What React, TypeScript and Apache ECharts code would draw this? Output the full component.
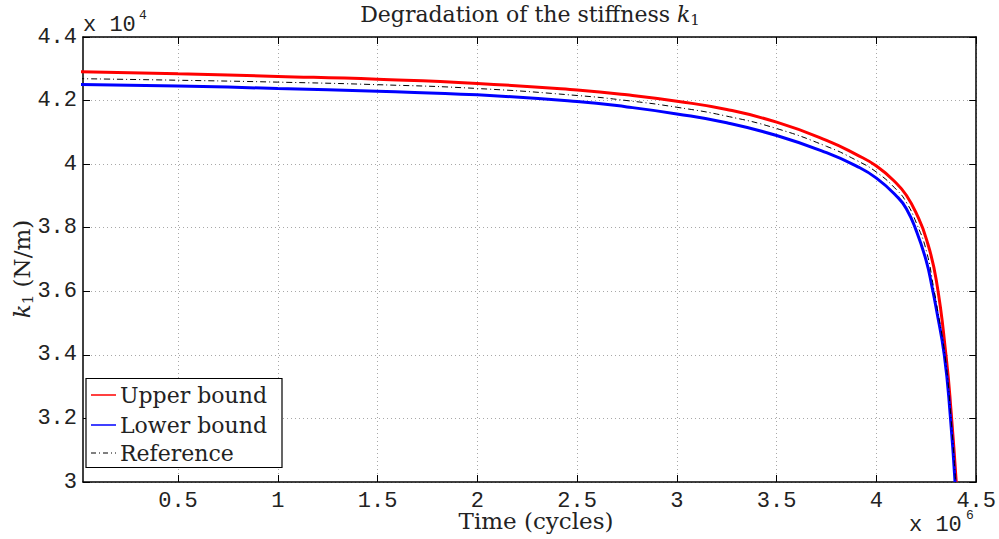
import React, { useEffect, useRef } from "react";
import * as echarts from "echarts";

// Time in cycles, stiffness in N/m
const upperX = [0, 500000, 1000000, 1500000, 2000000, 2500000, 2750000, 3000000, 3250000, 3500000, 3750000, 3900000, 4000000, 4100000, 4150000, 4200000, 4250000, 4300000, 4350000, 4375000, 4400000];
const upperY = [42910, 42840, 42760, 42670, 42540, 42330, 42180, 41980, 41720, 41320, 40750, 40300, 39940, 39400, 39020, 38450, 37650, 36350, 33900, 32150, 30000];

const lowerX = [0, 500000, 1000000, 1500000, 2000000, 2500000, 2750000, 3000000, 3250000, 3500000, 3750000, 3900000, 4000000, 4100000, 4150000, 4200000, 4250000, 4280000, 4300000, 4340000, 4370000, 4394000];
const lowerY = [42510, 42460, 42380, 42290, 42180, 41970, 41800, 41580, 41300, 40900, 40360, 39940, 39560, 39000, 38600, 37900, 36950, 36100, 35450, 34000, 32100, 30000];

const refX = [0, 500000, 1000000, 1500000, 2000000, 2500000, 2750000, 3000000, 3250000, 3500000, 3750000, 3900000, 4000000, 4100000, 4150000, 4200000, 4250000, 4290000, 4300000, 4345000, 4374000, 4397000];
const refY = [42690, 42640, 42580, 42500, 42380, 42160, 42000, 41790, 41510, 41120, 40560, 40120, 39750, 39200, 38800, 38150, 37280, 36000, 35650, 33900, 32000, 30000];

const xTicks = [500000, 1000000, 1500000, 2000000, 2500000, 3000000, 3500000, 4000000, 4500000];
const legendNames = ["Upper bound", "Lower bound", "Reference"];

const SERIF = "'DejaVu Serif', 'Liberation Serif', serif";
const MONO = "'Liberation Mono', 'DejaVu Sans Mono', monospace";

const pairs = (xs: number[], ys: number[]) => xs.map((x, i) => [x, ys[i]]);

export default function App() {
  const ref = useRef<HTMLDivElement>(null);
  useEffect(() => {
    if (!ref.current) return;
    const chart = echarts.init(ref.current, undefined, { renderer: "svg" });
    const gridLine = { show: true, lineStyle: { color: "#a8a8a8", type: [1, 3] as any, width: 1 } };
    const xBase = {
      type: "value" as const,
      min: 24000,
      max: 4500000,
      axisLine: { show: true, onZero: false, lineStyle: { color: "#000", width: 1.5 } },
    };
    const yBase = {
      type: "value" as const,
      min: 30000,
      max: 44000,
      interval: 2000,
      axisLine: { show: true, onZero: false, lineStyle: { color: "#000", width: 1.5 } },
    };
    const legendRows = [395, 425, 453];
    const legendColors = ["#ff0000", "#0000ff", "#000000"];
    chart.setOption({
      animation: false,
      grid: { left: 83, right: 22, top: 37, bottom: 57, containLabel: false },
      xAxis: [
        {
          ...xBase,
          position: "bottom",
          axisTick: { show: true, inside: true, length: 7, customValues: xTicks, lineStyle: { color: "#000" } },
          axisLabel: {
            show: true,
            customValues: xTicks,
            margin: 8,
            fontFamily: MONO,
            fontSize: 22,
            color: "#222",
            formatter: (v: number) => String(Math.round((v / 1e6) * 10) / 10),
          },
          splitLine: gridLine,
        },
        {
          ...xBase,
          position: "top",
          axisTick: { show: true, inside: true, length: 7, customValues: xTicks, lineStyle: { color: "#000" } },
          axisLabel: { show: false },
          splitLine: { show: false },
        },
      ],
      yAxis: [
        {
          ...yBase,
          position: "left",
          axisTick: { show: true, inside: true, length: 7, lineStyle: { color: "#000" } },
          axisLabel: {
            show: true,
            margin: 6,
            fontFamily: MONO,
            fontSize: 22,
            color: "#222",
            formatter: (v: number) => String(Math.round((v / 1e4) * 10) / 10),
          },
          splitLine: gridLine,
        },
        {
          ...yBase,
          position: "right",
          axisTick: { show: true, inside: true, length: 7, lineStyle: { color: "#000" } },
          axisLabel: { show: false },
          splitLine: { show: false },
        },
      ],
      series: [
        {
          name: legendNames[0],
          type: "line",
          data: pairs(upperX, upperY),
          showSymbol: false,
          symbol: "none",
          smooth: 0.5,
          lineStyle: { color: legendColors[0], width: 3 },
          z: 3,
        },
        {
          name: legendNames[1],
          type: "line",
          data: pairs(lowerX, lowerY),
          showSymbol: false,
          symbol: "none",
          smooth: 0.5,
          lineStyle: { color: legendColors[1], width: 3 },
          z: 4,
        },
        {
          name: legendNames[2],
          type: "line",
          data: pairs(refX, refY),
          showSymbol: false,
          symbol: "none",
          smooth: 0.5,
          lineStyle: { color: "#000", width: 1, type: [6, 3, 1, 3] },
          z: 5,
        },
      ],
      graphic: [
        {
          type: "rect",
          z: 100,
          shape: { x: 86, y: 378.5, width: 196, height: 89 },
          style: { fill: "#fff", stroke: "#000", lineWidth: 1.2 },
        },
        ...legendNames.flatMap((name, i) => [
          {
            type: "line",
            z: 101,
            shape: { x1: 91, y1: legendRows[i], x2: 116, y2: legendRows[i] },
            style: {
              stroke: legendColors[i],
              lineWidth: i === 2 ? 1 : 1.5,
              lineDash: i === 2 ? [5, 3, 1, 3] : null,
            },
          },
          {
            type: "text",
            z: 101,
            x: 120,
            y: legendRows[i],
            style: { text: name, align: "left", verticalAlign: "middle", fontFamily: SERIF, fontSize: 22, fill: "#222" },
          },
        ]),
        {
          type: "text",
          x: 530,
          y: 14,
          style: {
            text: "{a|Degradation of the stiffness }{k|k}{s|1}",
            align: "center",
            verticalAlign: "middle",
            rich: {
              a: { fontFamily: SERIF, fontSize: 22, fill: "#222", lineHeight: 28 },
              k: { fontFamily: SERIF, fontSize: 22, fontStyle: "italic", fill: "#222", lineHeight: 28 },
              s: { fontFamily: SERIF, fontSize: 15, fill: "#222", lineHeight: 28, padding: [12, 0, 0, 0] },
            },
          },
        },
        {
          type: "text",
          x: 22,
          y: 269,
          rotation: Math.PI / 2,
          style: {
            text: "{k|k}{s|1}{a| (N/m)}",
            align: "center",
            verticalAlign: "middle",
            rich: {
              a: { fontFamily: SERIF, fontSize: 23, fill: "#222", lineHeight: 28 },
              k: { fontFamily: SERIF, fontSize: 23, fontStyle: "italic", fill: "#222", lineHeight: 28 },
              s: { fontFamily: SERIF, fontSize: 15, fill: "#222", lineHeight: 28, padding: [12, 0, 0, 0] },
            },
          },
        },
        {
          type: "text",
          x: 536,
          y: 521,
          style: { text: "Time (cycles)", align: "center", verticalAlign: "middle", fontFamily: SERIF, fontSize: 23, fill: "#222" },
        },
        {
          type: "text",
          x: 83,
          y: 36,
          style: { text: "x 10", align: "left", verticalAlign: "bottom", fontFamily: MONO, fontSize: 22, fill: "#222" },
        },
        {
          type: "text",
          x: 139,
          y: 22,
          style: { text: "4", align: "left", verticalAlign: "bottom", fontFamily: MONO, fontSize: 13, fill: "#222" },
        },
        {
          type: "text",
          x: 909,
          y: 536,
          style: { text: "x 10", align: "left", verticalAlign: "bottom", fontFamily: MONO, fontSize: 22, fill: "#222" },
        },
        {
          type: "text",
          x: 966,
          y: 522,
          style: { text: "6", align: "left", verticalAlign: "bottom", fontFamily: MONO, fontSize: 13, fill: "#222" },
        },
      ],
    });
    return () => chart.dispose();
  }, []);
  return <div ref={ref} style={{ position: "fixed", left: 0, top: 0, width: 999, height: 539, background: "#fff" }} />;
}
